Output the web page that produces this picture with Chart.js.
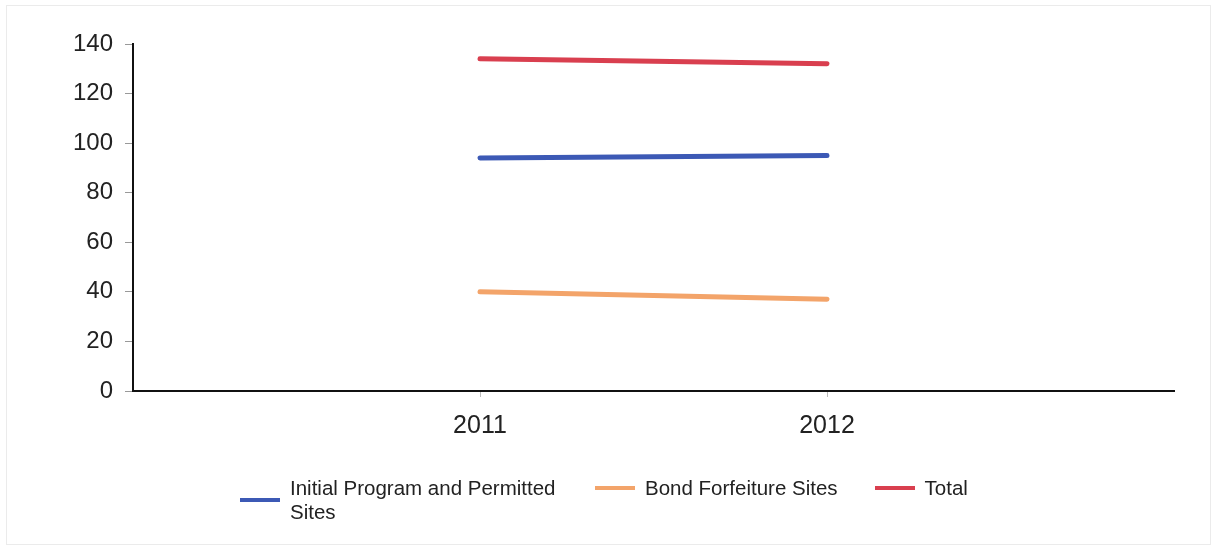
<!DOCTYPE html>
<html lang="en">
<head>
<meta charset="UTF-8">
<script src="https://cdn.jsdelivr.net/npm/chart.js"></script>
<title>Sites</title>
<style>
  html, body { margin: 0; padding: 0; background: #fff; }
  #wrap { position: relative; width: 1215px; height: 548px; overflow: hidden; }
  #frame { position: absolute; left: 6px; top: 5px; right: 4px; bottom: 3px; border: 1px solid #ebebeb; pointer-events: none; }
  #legend { position: absolute; top: 476px; left: 240px; display: flex; align-items: flex-start; gap: 37px;
            font-family: "Liberation Sans", Arial, sans-serif; font-size: 20.5px; line-height: 24px; color: #222; }
  .item { display: flex; align-items: center; }
  .swatch { width: 40px; height: 4px; margin-right: 10px; }
</style>
</head>
<body>
<div id="wrap">
  <canvas id="siteChart" width="1215" height="548"></canvas>
  <div id="frame"></div>
  <div id="legend"></div>
</div>
<script>
// years and site counts
var years = [2011, 2012];
var initialProgram = [94, 95];
var bondForfeiture = [40, 37];
var totalSites = [134, 132];
var yTicks = [0, 20, 40, 60, 80, 100, 120, 140];

var seriesNames = ['Initial Program and Permitted Sites', 'Bond Forfeiture Sites', 'Total'];
var seriesColors = ['#3c59b5', '#f3a46a', '#d93f4f'];
var seriesData = [initialProgram, bondForfeiture, totalSites];

function toPoints(vals) {
    return years.map(function (yr, i) { return { x: yr, y: vals[i] }; });
}

var datasets = seriesNames.map(function (name, i) {
    return {
        label: name,
        data: toPoints(seriesData[i]),
        borderColor: seriesColors[i],
        backgroundColor: seriesColors[i],
        borderWidth: 5,
        borderCapStyle: 'round',
        pointRadius: 0,
        fill: false
    };
});

var font = { family: '"Liberation Sans", Arial, sans-serif', size: 24 };

var ctx = document.getElementById('siteChart').getContext('2d');
var siteChart = new Chart(ctx, {
    type: 'line',
    data: { datasets: datasets },
    options: {
        responsive: false,
        animation: false,
        layout: { padding: { left: 0, right: 41, top: 44, bottom: 97 } },
        plugins: { legend: { display: false }, tooltip: { enabled: false } },
        scales: {
            x: {
                type: 'linear',
                min: 2010,
                max: 2013,
                afterBuildTicks: function (scale) {
                    scale.ticks = years.map(function (v) { return { value: v }; });
                },
                afterFit: function (scale) { scale.height = 60; },
                ticks: {
                    font: { family: font.family, size: 25 }, color: '#222', padding: 14,
                    callback: function (v) { return String(v); }
                },
                grid: { drawOnChartArea: false, drawTicks: true, tickLength: 6, color: '#bbb' },
                border: { color: '#111', width: 2 }
            },
            y: {
                min: 0,
                max: 140,
                afterBuildTicks: function (scale) {
                    scale.ticks = yTicks.map(function (v) { return { value: v }; });
                },
                afterFit: function (scale) { scale.width = 133; },
                ticks: { font: font, color: '#222', padding: 12 },
                grid: { drawOnChartArea: false, drawTicks: true, tickLength: 8, color: '#999' },
                border: { color: '#111', width: 2 }
            }
        }
    }
});

// legend below the plot, first label wraps onto two lines
var legend = document.getElementById('legend');
seriesNames.forEach(function (name, i) {
    var item = document.createElement('div');
    item.className = 'item';
    var sw = document.createElement('span');
    sw.className = 'swatch';
    sw.style.background = seriesColors[i];
    var txt = document.createElement('span');
    txt.textContent = name;
    if (i === 0) txt.style.width = '268px';
    item.appendChild(sw);
    item.appendChild(txt);
    legend.appendChild(item);
});
</script>
</body>
</html>
